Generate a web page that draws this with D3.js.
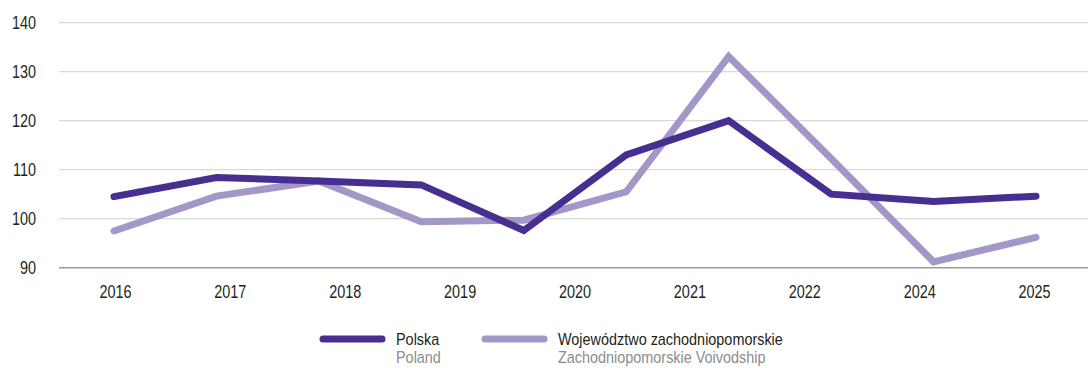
<!DOCTYPE html>
<html>
<head>
<meta charset="utf-8">
<script src="https://cdn.jsdelivr.net/npm/d3@7"></script>
<style>
  html, body { margin: 0; padding: 0; background: #ffffff; }
  svg { display: block; font-family: "Liberation Sans", Arial, sans-serif; }
</style>
</head>
<body>
<svg id="chart" width="1088" height="368"></svg>
<script>
// Axis labels along the bottom
const yearLabels = ["2016", "2017", "2018", "2019", "2020", "2021", "2022", "2024", "2025"];
// Y axis ticks
const yTicks = [90, 100, 110, 120, 130, 140];
// Ten observation points per series
const pointIndex = [0, 1, 2, 3, 4, 5, 6, 7, 8, 9];
const polska = [104.5, 108.4, 107.7, 106.9, 97.6, 113.0, 120.0, 105.0, 103.5, 104.6];
const zachodniopomorskie = [97.5, 104.6, 107.7, 99.4, 99.7, 105.5, 133.1, 112.3, 91.2, 96.2];

const seriesNames = ["Polska", "Województwo zachodniopomorskie"];
const seriesNamesEn = ["Poland", "Zachodniopomorskie Voivodship"];
const seriesColors = ["#472f91", "#a596c8"];

// horizontal squeeze that gives the labels a condensed look
const NARROW = 0.78;
const LEGEND_NARROW = 0.89;

const svg = d3.select("#chart");

const y = d3.scaleLinear().domain([90, 140]).range([267.7, 22.7]);
const xLabel = d3.scaleBand().domain(yearLabels).range([58, 1092]);
const xPoint = d3.scalePoint().domain(pointIndex).range([114, 1036]);

// Horizontal gridlines
svg.append("g")
  .selectAll("line")
  .data(yTicks)
  .join("line")
  .attr("x1", 59)
  .attr("x2", 1088)
  .attr("y1", d => y(d))
  .attr("y2", d => y(d))
  .attr("stroke", d => d === 90 ? "#9a9a9a" : "#d9d9d9")
  .attr("stroke-width", d => d === 90 ? 1.6 : 1.3);

// Y tick labels
svg.append("g")
  .selectAll("text")
  .data(yTicks)
  .join("text")
  .attr("transform", d => `translate(36,${y(d) + 6}) scale(${NARROW},1)`)
  .attr("text-anchor", "end")
  .attr("font-size", 18.5)
  .attr("fill", "#231f20")
  .text(d => d);

// X labels
const xAxis = d3.axisBottom(xLabel).tickSize(0).tickPadding(0);
const gx = svg.append("g")
  .attr("transform", "translate(0,298)")
  .call(xAxis);
gx.select(".domain").remove();
gx.selectAll("text")
  .attr("y", 0)
  .attr("dy", null)
  .attr("transform", `scale(${NARROW},1)`)
  .attr("font-size", 18.5)
  .attr("font-family", null)
  .attr("fill", "#231f20");

const line = d3.line()
  .x((d, i) => xPoint(pointIndex[i]))
  .y(d => y(d));

const paths = [polska, zachodniopomorskie].map((vals, k) =>
  svg.append("path")
    .datum(vals)
    .attr("d", line)
    .attr("fill", "none")
    .attr("stroke", seriesColors[k])
    .attr("stroke-width", 7)
    .attr("stroke-linecap", "round")
    .attr("stroke-linejoin", "miter")
);
// keep the dark series on top where the lines cross
paths[0].raise();

// Legend
const legendX = [323, 485];
const legend = svg.append("g")
  .selectAll("g")
  .data(seriesNames)
  .join("g")
  .attr("transform", (d, i) => `translate(${legendX[i]},0)`);

legend.append("line")
  .attr("x1", 0).attr("x2", 59)
  .attr("y1", 339).attr("y2", 339)
  .attr("stroke", (d, i) => seriesColors[i])
  .attr("stroke-width", 7)
  .attr("stroke-linecap", "round");

legend.append("text")
  .attr("transform", `translate(73,345) scale(${LEGEND_NARROW},1)`)
  .attr("font-size", 16.2)
  .attr("fill", "#231f20")
  .text(d => d);

legend.append("text")
  .attr("transform", `translate(73,363.3) scale(${LEGEND_NARROW},1)`)
  .attr("font-size", 16.2)
  .attr("fill", "#8c8c8c")
  .text((d, i) => seriesNamesEn[i]);
</script>
</body>
</html>
